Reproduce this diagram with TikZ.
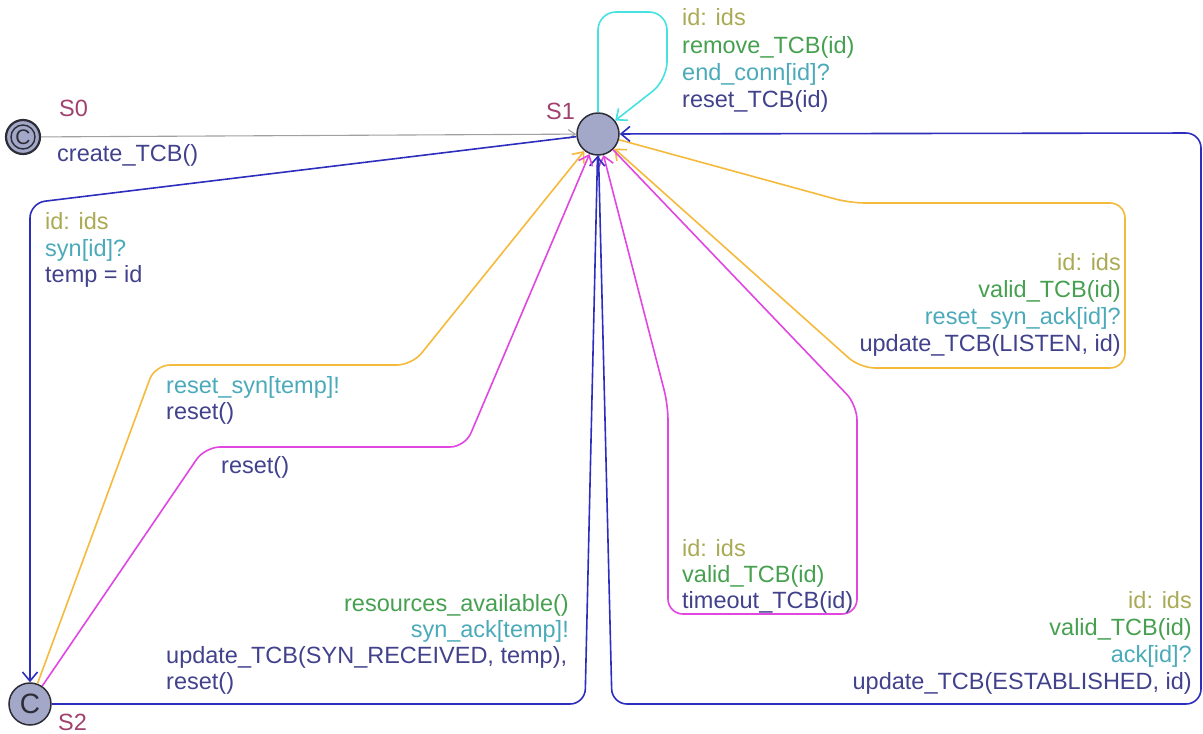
\documentclass[tikz,border=0pt]{standalone}
\usepackage{fontspec}
\setmainfont{Liberation Sans}
\usetikzlibrary{arrows.meta}
\definecolor{cblue}{RGB}{45,45,190}
\definecolor{ccyan}{RGB}{70,225,225}
\definecolor{corange}{RGB}{245,185,60}
\definecolor{cmag}{RGB}{225,70,225}
\definecolor{cgray}{RGB}{160,160,160}
\definecolor{tolive}{RGB}{170,170,85}
\definecolor{tgreen}{RGB}{70,160,80}
\definecolor{tteal}{RGB}{75,170,185}
\definecolor{tdark}{RGB}{65,65,140}
\definecolor{tstate}{RGB}{160,65,110}
\definecolor{sfill}{RGB}{163,168,200}
\definecolor{sborder}{RGB}{45,45,55}
\begin{document}
\begin{tikzpicture}[x=1pt,y=-1pt,
  state/.style={circle,draw=sborder,fill=sfill,line width=1.5pt,minimum size=42pt,inner sep=0pt},
  edge/.style={line width=1.6pt,rounded corners=15pt,-{Straight Barb[length=9pt,width=15pt,line width=1.6pt]}},
  lbl/.style={inner sep=0pt,anchor=base west,font=\fontsize{23.5}{27}\selectfont},
  lblr/.style={inner sep=0pt,anchor=base east,font=\fontsize{23.5}{27}\selectfont}]
\useasboundingbox (0,0) rectangle (1203,734);
% states
\node[state,minimum size=34pt,line width=2.2pt] (S0) at (23,137) {};
\draw[sborder,line width=1.4pt] (S0.center) circle (12pt);
\node[inner sep=0pt,text=sborder,font=\fontsize{21}{21}\selectfont] (S0c) at (23,137) {C};
\node[state] (S1) at (598,134) {};
\node[state] (S2) at (30,704) {};
\node[inner sep=0pt,text=sborder,font=\fontsize{28}{28}\selectfont] (S2c) at (30,704) {C};
% state names
\node[lbl,text=tstate] (n0) at (59,116) {S0};
\node[lbl,text=tstate] (n1) at (546,119) {S1};
\node[lbl,text=tstate] (n2) at (58,730) {S2};
% edges
\draw[edge,cgray,line width=1.1pt,-{Straight Barb[length=7pt,width=9pt,line width=1.1pt]}] (S0) -- (S1);
\draw[edge,cblue] (S1) -- (30,203) -- (S2);
\draw[edge,ccyan,rounded corners=18pt] (S1.north) -- (598,12) -- (667,12) -- (667,80) -- (S1);
\draw[edge,corange] (S1) -- (850,203) -- (1125,203) -- (1125,368) -- (860,368) -- (S1);
\draw[edge,cmag] (S1) -- (857,405) -- (857,614) -- (668,614) -- (668,405) -- (S1);
\draw[edge,cblue] (S1) -- (612,704) -- (1201,704) -- (1201,133) -- (S1);
\draw[edge,cblue] (S2) -- (585,704) -- (S1);
\draw[edge,corange] (S2) -- (155,365) -- (412,365) -- (S1);
\draw[edge,cmag] (S2) -- (205,447) -- (465,447) -- (S1);
% labels
\node[lbl,text=tdark] (l0) at (57,161) {create\_TCB()};
\node[lbl,text=tolive] (c1) at (682,25) {id: ids};
\node[lbl,text=tgreen] (c2) at (682,53) {remove\_TCB(id)};
\node[lbl,text=tteal] (c3) at (682,80) {end\_conn[id]?};
\node[lbl,text=tdark] (c4) at (682,107) {reset\_TCB(id)};
\node[lbl,text=tolive] (b1) at (45,229) {id: ids};
\node[lbl,text=tteal] (b2) at (45,256) {syn[id]?};
\node[lbl,text=tdark] (b3) at (45,282) {temp = id};
\node[lblr,text=tolive] (o1) at (1121,270) {id: ids};
\node[lblr,text=tgreen] (o2) at (1121,297) {valid\_TCB(id)};
\node[lblr,text=tteal] (o3) at (1121,324) {reset\_syn\_ack[id]?};
\node[lblr,text=tdark] (o4) at (1121,351) {update\_TCB(LISTEN, id)};
\node[lbl,text=tteal] (r1) at (166,393) {reset\_syn[temp]!};
\node[lbl,text=tdark] (r2) at (166,419) {reset()};
\node[lbl,text=tdark] (m0) at (221,473) {reset()};
\node[lbl,text=tolive] (m1) at (682,556) {id: ids};
\node[lbl,text=tgreen] (m2) at (682,582) {valid\_TCB(id)};
\node[lbl,text=tdark] (m3) at (682,608) {timeout\_TCB(id)};
\node[lblr,text=tgreen] (s1) at (569,611) {resources\_available()};
\node[lblr,text=tteal] (s2) at (569,637) {syn\_ack[temp]!};
\node[lbl,text=tdark] (s3) at (166,663) {update\_TCB(SYN\_RECEIVED, temp),};
\node[lbl,text=tdark] (s4) at (166,689) {reset()};
\node[lblr,text=tolive] (e1) at (1192,608) {id: ids};
\node[lblr,text=tgreen] (e2) at (1192,635) {valid\_TCB(id)};
\node[lblr,text=tteal] (e3) at (1192,662) {ack[id]?};
\node[lblr,text=tdark] (e4) at (1192,689) {update\_TCB(ESTABLISHED, id)};
\end{tikzpicture}
\end{document}
